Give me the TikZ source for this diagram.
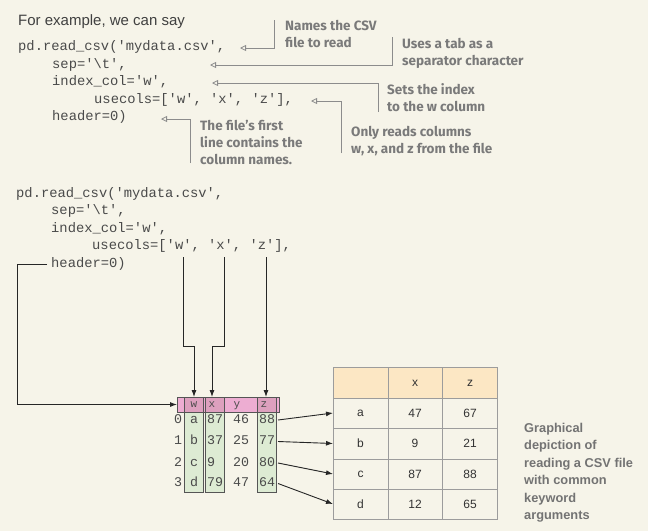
\documentclass[tikz,border=0pt]{standalone}
\usepackage{fontspec}
\setmainfont{Liberation Sans}
\newfontfamily\codefont{Liberation Mono}
\newfontfamily\annfont{Fira Sans}
\usetikzlibrary{arrows.meta}
\definecolor{bg}{HTML}{F6F4E9}
\definecolor{codec}{HTML}{4A4A4A}
\definecolor{annc}{HTML}{7A7A7A}
\definecolor{annl}{HTML}{8C8C8C}
\definecolor{pinkc}{HTML}{EDADD2}
\definecolor{pinkd}{HTML}{DDA0BE}
\definecolor{greenc}{HTML}{DDEBD3}
\definecolor{hdrc}{HTML}{FCE7C4}
\definecolor{gridc}{HTML}{9C9C9C}
\definecolor{boxc}{HTML}{555555}
\begin{document}
\begin{tikzpicture}[x=1pt,y=-1pt,
  code/.style={anchor=west, inner sep=0pt, font=\codefont\fontsize{13.8}{16}\selectfont, text=codec, text height=9pt, text depth=3pt},
  ann/.style={anchor=base west, inner sep=0pt, align=left, font=\annfont\bfseries\fontsize{13.5}{17}\selectfont, text=annc},
  annline/.style={draw=annl, line width=0.8pt, -{Triangle[open,length=6pt,width=6pt]}},
  conn/.style={draw=black!85, line width=0.9pt},
  connarrow/.style={conn, -{Latex[length=7pt,width=5pt]}},
  cell/.style={inner sep=0pt, font=\codefont\fontsize{13.3}{15}\selectfont, text=codec, text height=9pt, text depth=3pt},
  hcell/.style={inner sep=0pt, font=\codefont\fontsize{11}{13}\selectfont, text=black!70, text height=7pt, text depth=2pt},
  tcell/.style={inner sep=0pt, font=\fontsize{12}{14}\selectfont, text=black!80}
]
\fill[bg] (0,0) rectangle (648,531);
\useasboundingbox (0,0) rectangle (648,531);

% heading
\node[anchor=base west, inner sep=0pt, font=\fontsize{15}{18}\selectfont, text=black!75] (intro) at (18,25) {For example, we can say};

% top code
\node[code] (c1) at (18,47.5) {pd.read\_csv('mydata.csv',};
\node[code] (c2) at (52,65) {sep='\textbackslash t',};
\node[code] (c3) at (52,82.5) {index\_col='w',};
\node[code] (c4) at (94,100) {usecols=['w', 'x', 'z'],};
\node[code] (c5) at (52,117.5) {header=0)};

% annotations (base = baseline of last line)
\node[ann] (a1) at (285,47.5) {Names the CSV\\file to read};
\node[ann] (a2) at (402,65.5) {Uses a tab as a\\separator character};
\node[ann] (a3) at (387,111) {Sets the index\\to the w column};
\node[ann] (a4) at (351,153.5) {Only reads columns\\w, x, and z from the file};
\node[ann] (a5) at (200,164) {The file’s first\\line contains the\\column names.};

\coordinate (t1) at (240,48);
\coordinate (t2) at (210,65);
\coordinate (t3) at (212,83);
\coordinate (t4) at (311,101);
\coordinate (t5) at (161,119);
\draw[annline] (274,20) |- (t1);
\draw[annline] (392,37) |- (t2);
\draw[annline] (378,112) |- (t3);
\draw[annline] (341,153) |- (t4);
\draw[annline] (190,163) |- (t5);

% bottom code
\node[code] (d1) at (16,194) {pd.read\_csv('mydata.csv',};
\node[code] (d2) at (51,211.5) {sep='\textbackslash t',};
\node[code] (d3) at (51,229) {index\_col='w',};
\node[code] (d4) at (92,246.5) {usecols=['w', 'x', 'z'],};
\node[code] (d5) at (51,264) {header=0)};

% small dataframe
\fill[pinkc] (177,397) rectangle (279,412);
\foreach \xa/\xb in {184/203,205/224,257/276}{
  \fill[pinkd] (\xa,397) rectangle (\xb,412);
  \fill[greenc] (\xa,412) rectangle (\xb,492);
}
\draw[boxc, line width=0.7pt] (177,397) rectangle (279,412);
\foreach \xa/\xb in {184/203,205/224,257/276}{
  \draw[boxc, line width=0.7pt] (\xa,397) rectangle (\xb,492);
}
\node[hcell] (hw) at (194,404.5) {w};
\node[hcell] (hx) at (212,404.5) {x};
\node[hcell] (hy) at (237,404.5) {y};
\node[hcell] (hz) at (264,404.5) {z};
\coordinate (dfleft) at (177,404.5);

\foreach \r/\yy/\l/\vx/\vy/\vz in {0/420/a/87/46/88, 1/441.5/b/37/25/77, 2/463/c/9/20/80, 3/483.5/d/79/47/64}{
  \node[cell] (i\r) at (178,\yy) {\r};
  \node[cell] (l\r) at (194,\yy) {\l};
  \node[cell, anchor=west] (x\r) at (207,\yy) {\vx};
  \node[cell, anchor=west] (y\r) at (233,\yy) {\vy};
  \node[cell, anchor=west] (z\r) at (259,\yy) {\vz};
}

% connectors from code to dataframe
\coordinate (wtop) at (183,257);
\coordinate (xtop) at (224,257);
\coordinate (ztop) at (266,257);
\coordinate (hstart) at (47,264);
\coordinate (tipw) at (194,397);
\coordinate (tipx) at (212,397);
\coordinate (tipz) at (266,397);
\draw[connarrow] (wtop) -- (183,346) -- (194,346) -- (tipw);
\draw[connarrow] (xtop) -- (224,346) -- (212,346) -- (tipx);
\draw[connarrow] (ztop) -- (tipz);
\draw[connarrow] (hstart) -- (17,264) -- (17,404.5) -- (dfleft);

% result table
\fill[hdrc] (333,367) rectangle (497,398);
\draw[gridc, line width=0.8pt] (333,367) rectangle (497,519);
\foreach \yy in {398,428,459,489} \draw[gridc, line width=0.8pt] (333,\yy) -- (497,\yy);
\foreach \xx in {388,442} \draw[gridc, line width=0.8pt] (\xx,367) -- (\xx,519);
\node[tcell] (tx) at (415,383) {x};
\node[tcell] (tz) at (470,383) {z};
\foreach \r/\yy/\l/\va/\vb in {0/413/a/47/67, 1/443.5/b/9/21, 2/474/c/87/88, 3/504/d/12/65}{
  \node[tcell] (r\r) at (360.5,\yy) {\l};
  \node[tcell] (ra\r) at (415,\yy) {\va};
  \node[tcell] (rb\r) at (470,\yy) {\vb};
  \coordinate (re\r) at (333,\yy);
}
\draw[connarrow] (278,420) -- (re0);
\draw[connarrow] (278,441.5) -- (re1);
\draw[connarrow] (278,463) -- (re2);
\draw[connarrow] (278,483.5) -- (re3);

% caption
\node[anchor=base west, inner sep=0pt, align=left, font=\bfseries\fontsize{12.8}{17.4}\selectfont, text=black!55] (cap) at (524,519.5) {Graphical\\depiction of\\reading a CSV file\\with common\\keyword\\arguments};
\end{tikzpicture}
\end{document}
